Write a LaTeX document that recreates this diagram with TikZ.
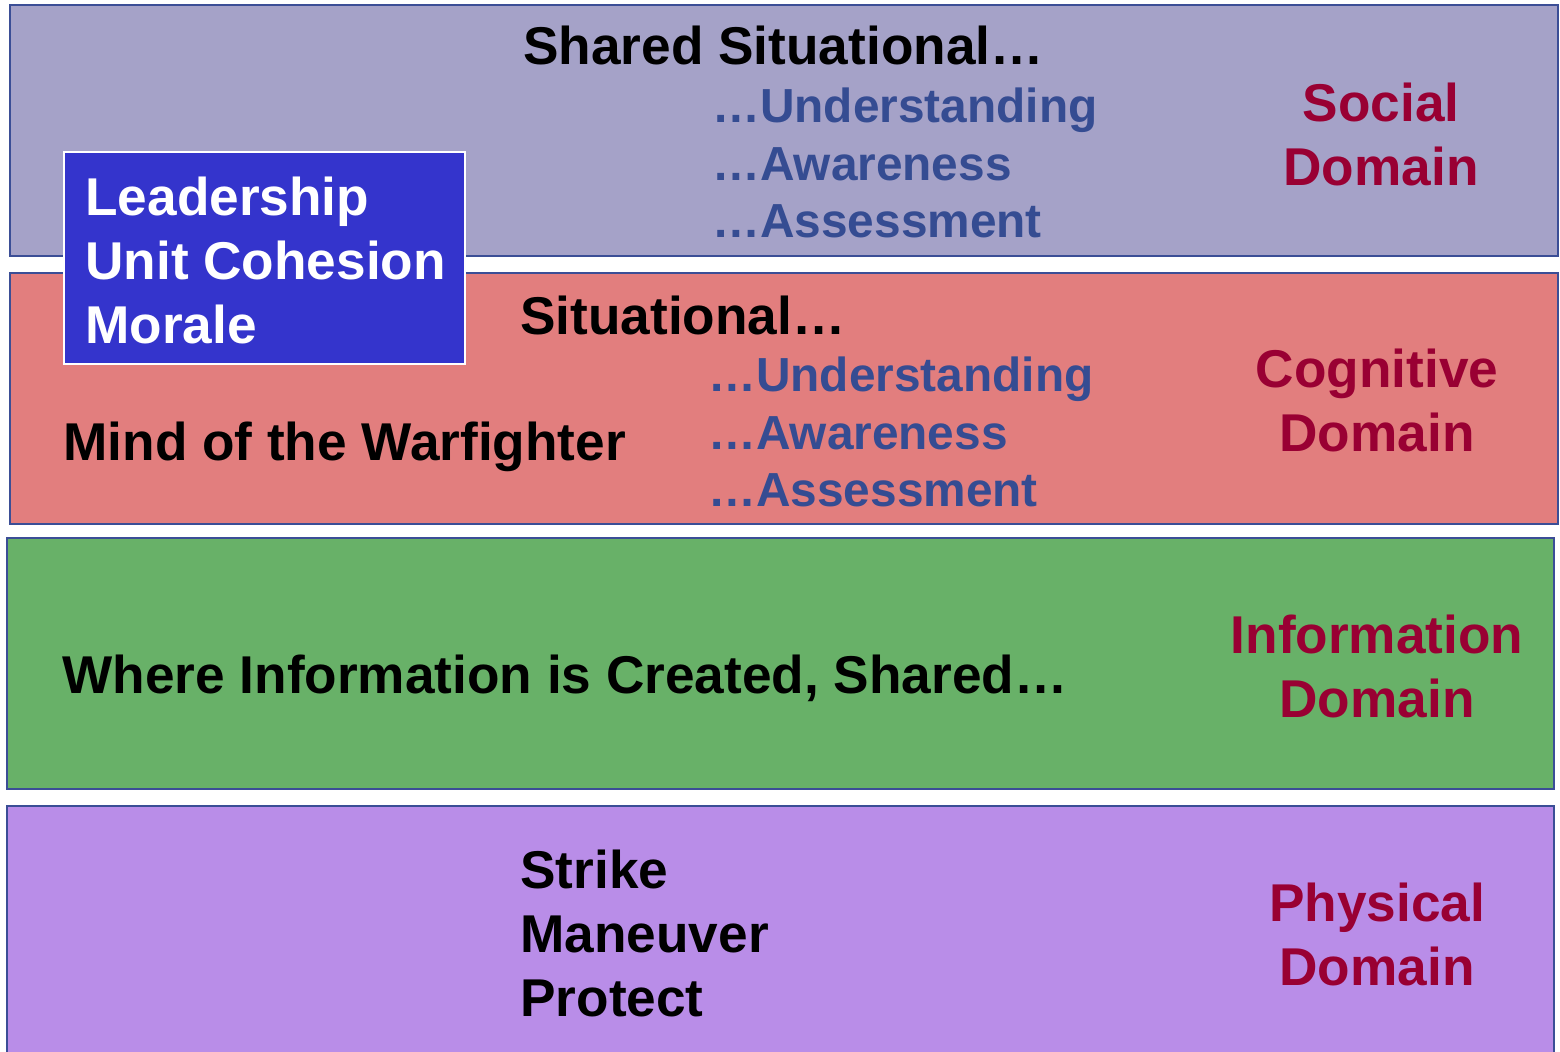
\documentclass[tikz,border=0pt]{standalone}
\usepackage{fontspec}
\setmainfont{Liberation Sans}

\definecolor{socialfill}{HTML}{A5A2C8}
\definecolor{cognitivefill}{HTML}{E27E7E}
\definecolor{infofill}{HTML}{68B168}
\definecolor{physicalfill}{HTML}{B98DE8}
\definecolor{edgeblue}{HTML}{3B4E96}
\definecolor{moralefill}{HTML}{3434CC}
\definecolor{itemblue}{HTML}{354C92}
\definecolor{domainred}{HTML}{990033}

\begin{document}
\begin{tikzpicture}[x=0.5pt,y=-0.5pt,
    domainbox/.style={draw=edgeblue,line width=1pt},
    heading/.style={anchor=base west,inner sep=0pt,align=left,
      font=\bfseries\fontsize{26.6}{32}\selectfont},
    subitem/.style={heading,text=itemblue,
      font=\bfseries\fontsize{23.9}{28.75}\selectfont},
    domainlabel/.style={anchor=base,inner sep=0pt,align=center,text=domainred,
      font=\bfseries\fontsize{26.6}{32}\selectfont}]
      \useasboundingbox (0,0) rectangle (1560,1052);
      % the four layers
      \draw [domainbox,fill=socialfill] (10,5) rectangle (1558,256);
      \draw [domainbox,fill=cognitivefill] (10,273) rectangle (1558,524);
      \draw [domainbox,fill=infofill] (7,538) rectangle (1554,789);
      \draw [domainbox,fill=physicalfill] (7,806) rectangle (1554,1070);
      % social (multi-line nodes sit on their last baseline)
      \node [heading] (shared) at (523,65) {Shared Situational…};
      \node [subitem] (sharedsub) at (712,238) {…Understanding\\…Awareness\\…Assessment};
      \node [domainlabel] (social) at (1381,186) {Social\\Domain};
      % cognitive
      \node [heading] (situational) at (520,335) {Situational…};
      \node [subitem] (situsub) at (708,507) {…Understanding\\…Awareness\\…Assessment};
      \node [heading] (mind) at (63,461) {Mind of the Warfighter};
      \node [domainlabel] (cognitive) at (1377,452) {Cognitive\\Domain};
      % information
      \node [heading] (where) at (62,694) {Where Information is Created, Shared…};
      \node [domainlabel] (information) at (1377,718) {Information\\Domain};
      % physical
      \node [heading] (strike) at (520,1016.5) {Strike\\Maneuver\\Protect};
      \node [domainlabel] (physical) at (1377,985.5) {Physical\\Domain};
      % leadership box over social and cognitive
      \draw [draw=white,line width=1pt,fill=moralefill] (64,152) rectangle (465,364);
      \node [heading,text=white] (morale) at (85,343.3) {Leadership\\Unit Cohesion\\Morale};
\end{tikzpicture}
\end{document}
